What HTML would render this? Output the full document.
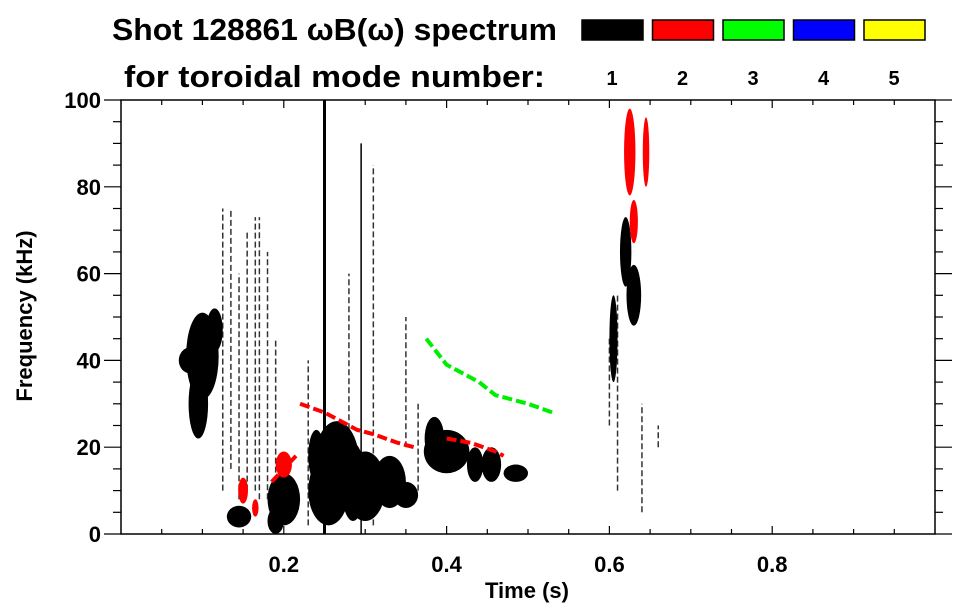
<!DOCTYPE html>
<html><head><meta charset="utf-8"><style>
body{margin:0;background:#fff;}
svg{display:block;font-family:"Liberation Sans",Arial,sans-serif;font-weight:bold;}
</style></head><body>
<svg id="c" width="963" height="615" viewBox="0 0 963 615">
<text x="112" y="40" font-size="31" textLength="445" lengthAdjust="spacingAndGlyphs">Shot 128861 ωB(ω) spectrum</text>
<text x="124" y="87" font-size="31" textLength="421" lengthAdjust="spacingAndGlyphs">for toroidal mode number:</text>
<g id="plot"></g>
<g id="axes"></g>
<g id="legend"></g>
<text x="527" y="598" font-size="22" text-anchor="middle">Time (s)</text>
<text transform="translate(32,316) rotate(-90)" font-size="22" text-anchor="middle">Frequency (kHz)</text>
</svg>
<script>
// blob spectral features: time center, freq center, half widths, mode
const blobT =  [0.100,0.095,0.085,0.115,0.145,0.200,0.190,0.265,0.255,0.300,0.330,0.350,0.240,0.285,0.400,0.385,0.435,0.455,0.485,0.620,0.630,0.605,0.625,0.645,0.630,0.200,0.150,0.165];
const blobF =  [41,30,40,47,4,8,3,16,10,11,12,9,18,12,19,22,16,16,14,65,55,45,88,88,72,16,10,6];
const blobDT = [0.020,0.012,0.014,0.010,0.015,0.020,0.010,0.028,0.025,0.025,0.020,0.015,0.010,0.015,0.028,0.012,0.010,0.012,0.015,0.007,0.009,0.005,0.007,0.004,0.005,0.010,0.006,0.004];
const blobDF = [10,8,3,5,2.5,6,3,10,8,8,6,3,6,9,5,5,4,4,2,8,7,10,10,8,5,3,3,2];
const blobMode=[1,1,1,1,1,1,1,1,1,1,1,1,1,1,1,1,1,1,1,1,1,1,2,2,2,2,2,2];
// vertical line features
const lineT =  [0.250,0.295,0.310,0.280,0.125,0.135,0.145,0.155,0.165,0.170,0.180,0.190,0.600,0.610,0.640,0.350,0.365,0.230,0.660];
const lineF0 = [0,0,2,20,10,15,8,10,10,8,8,10,25,10,5,20,10,2,20];
const lineF1 = [100,90,85,60,75,75,60,70,73,73,65,45,45,55,30,50,30,40,25];
// mode-numbered curves
const red1T=[0.22,0.25,0.27,0.29,0.31,0.34,0.36];
const red1F=[30,28,26,24,23,21,20];
const red2T=[0.40,0.43,0.46,0.47];
const red2F=[22,21,19,18];
const red3T=[0.185,0.195,0.205,0.215];
const red3F=[12,14,16,18];
const greenT=[0.375,0.40,0.42,0.44,0.46,0.48,0.50,0.53];
const greenF=[45,39,37,35,32,31,30,28];
const modeColors=["#000000","#ff0000","#00ff00","#0000ff","#ffff00"];
const modeLabels=["1","2","3","4","5"];
const xTicks=[0.2,0.4,0.6,0.8];
const yTicks=[0,20,40,60,80,100];

const L=121,R=935,T=100,B=534;
const X=t=>L+t*(R-L);
const Y=f=>B-f/100*(B-T);
const NS="http://www.w3.org/2000/svg";
function mk(tag,attrs,parent){const e=document.createElementNS(NS,tag);for(const k in attrs)e.setAttribute(k,attrs[k]);parent.appendChild(e);return e;}
const plot=document.getElementById('plot'),axes=document.getElementById('axes'),leg=document.getElementById('legend');

for(let i=0;i<lineT.length;i++){
  const e=mk('line',{x1:X(lineT[i]),x2:X(lineT[i]),y1:Y(lineF0[i]),y2:Y(lineF1[i]),stroke:i<2?'#000':'#333','stroke-width':i==0?3:1.5,'stroke-dasharray':i<2?'none':'6 3'},plot);
  
  
}
for(let i=0;i<blobT.length;i++){
  const e=mk('ellipse',{cx:X(blobT[i]),cy:Y(blobF[i]),rx:blobDT[i]*(R-L),ry:blobDF[i]*(B-T)/100,fill:modeColors[blobMode[i]-1]},plot);
  
  
}
function curve(ts,fs,col,name){
  const e=mk('polyline',{points:ts.map((t,i)=>X(t)+','+Y(fs[i])).join(' '),fill:'none',stroke:col,'stroke-width':4,'stroke-dasharray':'10 4'},plot);
  
  
}
curve(red1T,red1F,'#ff0000','mode2-curve-a');
curve(red2T,red2F,'#ff0000','mode2-curve-b');
curve(red3T,red3F,'#ff0000','mode2-curve-c');
curve(greenT,greenF,'#00ee00','mode3-curve');

const fr=mk('rect',{x:L,y:T,width:R-L,height:B-T,fill:'none',stroke:'#000','stroke-width':1.5},axes);


for(let v=0;v<=100.01;v+=5){
  const major=Math.abs(v%20)<0.01, y=Y(v), len=major?17:8;
  mk('line',{x1:L-len,x2:L,y1:y,y2:y,stroke:'#000','stroke-width':1.2},axes);
  mk('line',{x1:R,x2:R+len,y1:y,y2:y,stroke:'#000','stroke-width':1.2},axes);
}
for(let v=0.05;v<1;v+=0.05){
  const major=Math.abs((v*10)%2)<0.01||Math.abs((v*10)%2-2)<0.01, x=X(v), len=major?8:5;
  mk('line',{x1:x,x2:x,y1:B,y2:B-len,stroke:'#000','stroke-width':1.2},axes);
  mk('line',{x1:x,x2:x,y1:T,y2:T+len,stroke:'#000','stroke-width':1.2},axes);
}
yTicks.forEach(v=>{
  const t=mk('text',{x:L-20,y:Y(v)+8,'font-size':22,'text-anchor':'end'},axes);t.textContent=v;
  
  
});
xTicks.forEach(v=>{
  const t=mk('text',{x:X(v),y:572,'font-size':22,'text-anchor':'middle'},axes);t.textContent=v.toFixed(1);
  
  
});
modeColors.forEach((c,i)=>{
  const x=582+i*70.5;
  const r=mk('rect',{x:x,y:20,width:61,height:20,fill:c,stroke:'#000','stroke-width':1.5},leg);
  
  
  const t=mk('text',{x:x+30,y:85,'font-size':20,'text-anchor':'middle'},leg);t.textContent=modeLabels[i];
  
  
});
</script>
</body></html>
